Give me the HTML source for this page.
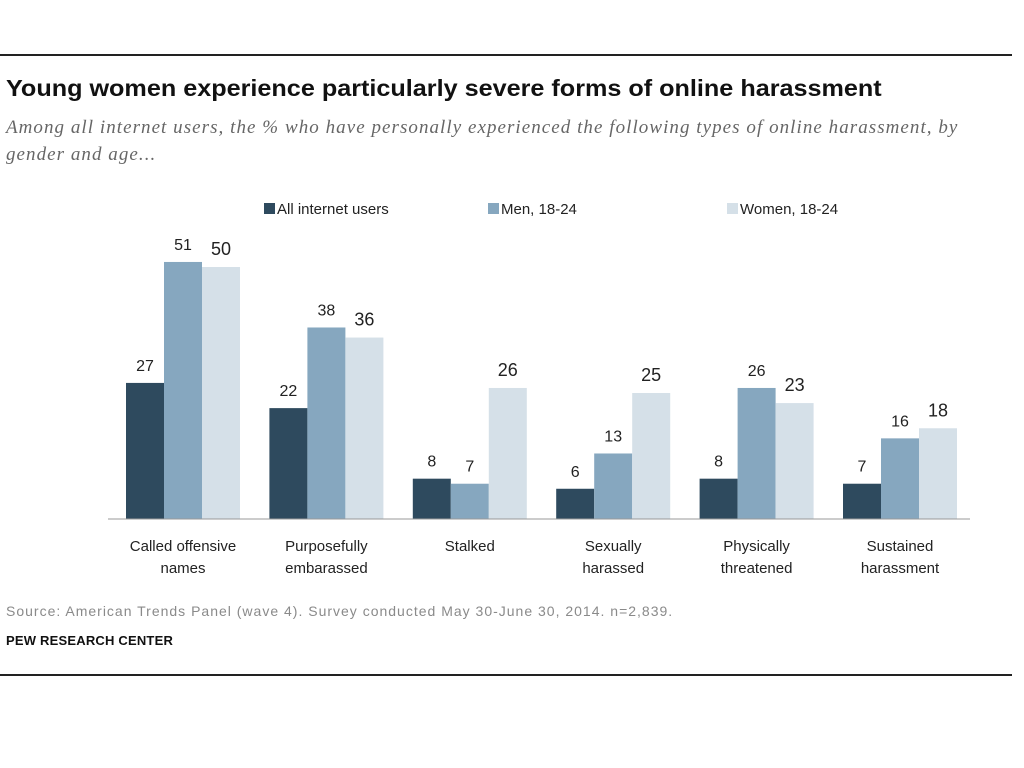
<!DOCTYPE html>
<html><head><meta charset="utf-8"><style>
body{margin:0;background:#fff;width:1024px;height:768px;overflow:hidden;font-family:"Liberation Sans",sans-serif}
.rule{position:absolute;left:0;width:1012px;height:2px;background:#222}
#title{position:absolute;left:6px;top:75px;font-size:23px;font-weight:bold;color:#111;white-space:nowrap;transform:scaleX(1.095);transform-origin:0 0}
#sub{position:absolute;left:6px;top:114px;width:1010px;font-family:"Liberation Serif",serif;font-style:italic;font-size:19px;line-height:27px;color:#666;letter-spacing:1.05px;white-space:nowrap}
#src{position:absolute;left:6px;top:603px;font-size:14px;color:#8a8a8a;letter-spacing:1px;white-space:nowrap}
#pew{position:absolute;left:6px;top:633px;font-size:13px;font-weight:bold;color:#111;letter-spacing:0.2px}
svg{position:absolute;left:0;top:0}
</style></head><body>
<div class="rule" style="top:54px"></div>
<div id="title">Young women experience particularly severe forms of online harassment</div>
<div id="sub">Among all internet users, the % who have personally experienced the following types of online harassment, by<br>gender and age...</div>
<svg id="chart" width="1024" height="768"></svg>
<div id="src">Source: American Trends Panel (wave 4). Survey conducted May 30-June 30, 2014. n=2,839.</div>
<div id="pew">PEW RESEARCH CENTER</div>
<div class="rule" style="top:674px"></div>
<script>
const categories=[["Called offensive","names"],["Purposefully","embarassed"],["Stalked",""],["Sexually","harassed"],["Physically","threatened"],["Sustained","harassment"]];
const seriesNames=["All internet users","Men, 18-24","Women, 18-24"];
const allUsers=[27,22,8,6,8,7];
const men1824=[51,38,7,13,26,16];
const women1824=[50,36,26,25,23,18];
const series=[allUsers,men1824,women1824];
const colors=["#2e4a5e","#86a7bf","#d5e0e8"];
const NS="http://www.w3.org/2000/svg",svg=document.getElementById('chart');
const base=519,scale=5.04,barW=38,groupStart=126,groupStep=143.4;
const y=v=>base-v*scale;
const x=(g,s)=>groupStart+g*groupStep+s*barW;
function mk(t,a){const e=document.createElementNS(NS,t);for(const k in a)e.setAttribute(k,a[k]);svg.appendChild(e);return e;}
series.forEach((vals,s)=>{
 vals.forEach((v,g)=>{
  const r=mk('rect',{x:x(g,s),y:y(v),width:barW,height:v*scale,fill:colors[s]});
  
  
  const t=mk('text',{x:x(g,s)+barW/2,y:y(v)-12,'text-anchor':'middle','font-size':s==2?18:16,fill:'#222'});
  t.textContent=v;
  
  
 });
});
const ax=mk('line',{x1:108,x2:970,y1:base,y2:base,stroke:'#999','stroke-width':1});


categories.forEach((c,g)=>{
 c.forEach((line,i)=>{if(!line)return;
  const t=mk('text',{x:x(g,0)+barW*1.5,y:551+i*22,'text-anchor':'middle','font-size':15,fill:'#222'});
  t.textContent=line;
  
  
 });
});
const lx=[264,488,727];
seriesNames.forEach((n,s)=>{
 const r=mk('rect',{x:lx[s],y:203,width:11,height:11,fill:colors[s]});
 
 
 const t=mk('text',{x:lx[s]+13,y:214,'font-size':15,fill:'#222'});
 t.textContent=n;
 
 
});
</script>
</body></html>
